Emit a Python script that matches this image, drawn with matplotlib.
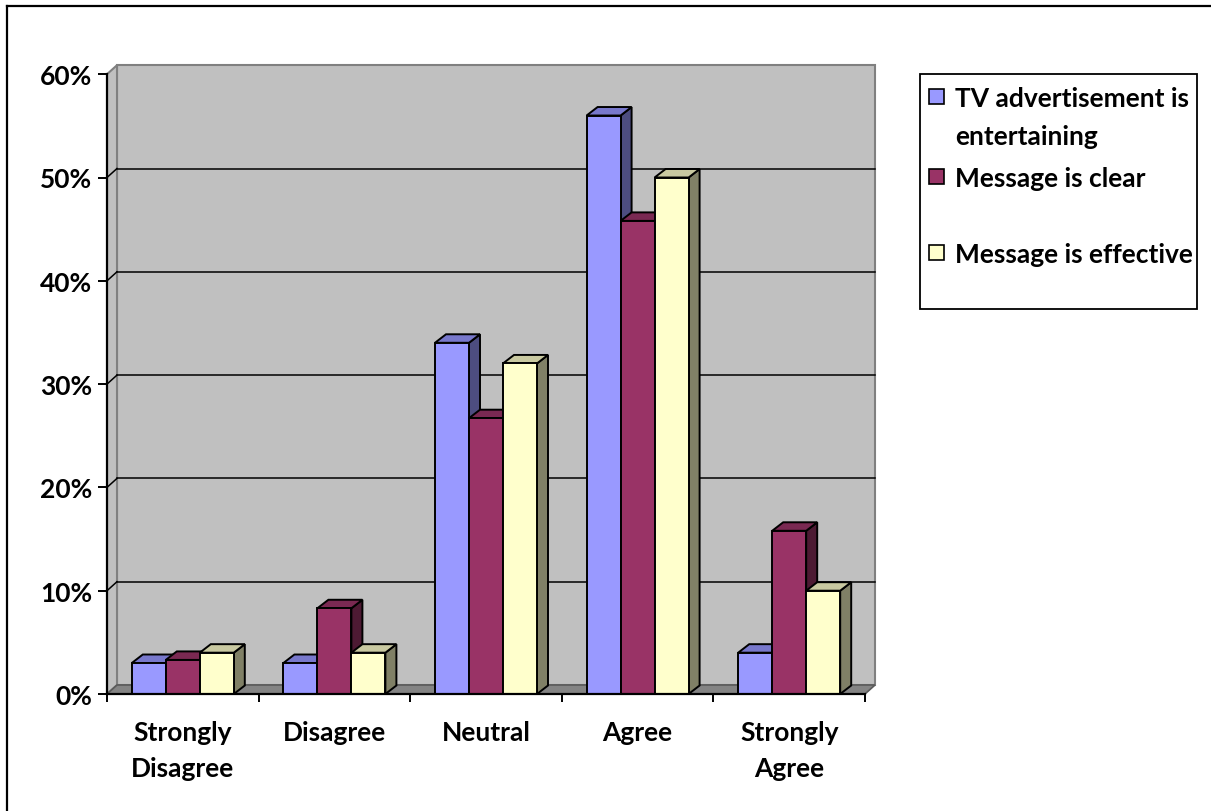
import textwrap
import numpy as np
import matplotlib.pyplot as plt
from matplotlib.patches import Polygon, Rectangle
from matplotlib.lines import Line2D

plt.rcParams['font.family'] = ['Lato', 'DejaVu Sans']
plt.rcParams['font.weight'] = 'bold'
FS = 19

# survey answers, percent of respondents
categories = ['Strongly\nDisagree', 'Disagree', 'Neutral', 'Agree', 'Strongly\nAgree']
series = ['TV advertisement is entertaining', 'Message is clear', 'Message is effective']
tv_entertaining = [3, 3, 34, 56, 4]
msg_clear = [3.3, 8.3, 26.7, 45.8, 15.8]
msg_effective = [4, 4, 32, 50, 10]
values = [tv_entertaining, msg_clear, msg_effective]
y_ticks = [0, 10, 20, 30, 40, 50, 60]

# face colours for the fake 3d columns: front, top, side
front = ['#9999FF', '#993366', '#FFFFCC']
top = ['#7878CC', '#7A2952', '#C9C9A1']
side = ['#4D4D80', '#4D1A33', '#808066']

W, H = 1211, 812
fig = plt.figure(figsize=(W / 100, H / 100), dpi=100)

# plot box in pixels
x0_px, x_unit = 107, 151.6   # front left axis, px per category
y0_px, y_unit = 695, 10.33   # zero line, px per percent
xmax, ymax = 4.58, 61.3
ax = fig.add_axes([x0_px / W, (H - y0_px) / H,
                   (xmax + 0.5) * x_unit / W, ymax * y_unit / H])
ax.set_xlim(-0.5, xmax)
ax.set_ylim(0, ymax)
ax.set_facecolor('none')

# depth offsets (walls and columns) in data units
wdx, wdy = 10 / x_unit, 9 / y_unit
bdx, bdy = 11 / x_unit, 8.5 / y_unit
bw = 34 / x_unit
n = len(categories)
left, right = -0.5, n - 0.5

wall = '#C0C0C0'
edge = '#808080'

# back wall
ax.add_patch(Polygon([(left + wdx, wdy), (right + wdx, wdy), (right + wdx, 60 + wdy),
                      (left + wdx, 60 + wdy)], closed=True, fc=wall, ec=edge, lw=1.5, zorder=1))
# side wall
ax.add_patch(Polygon([(left, 0), (left + wdx, wdy), (left + wdx, 60 + wdy), (left, 60)],
                     closed=True, fc=wall, ec=edge, lw=1.5, zorder=1))
# floor
ax.add_patch(Polygon([(left, 0), (right, 0), (right + wdx, wdy), (left + wdx, wdy)],
                     closed=True, fc='#848484', ec='#5A5A5A', lw=1.2, zorder=1.2))

# gridlines on back and side walls
for t in y_ticks[1:-1]:
    ax.plot([left + wdx, right + wdx], [t + wdy, t + wdy], color='black', lw=1.1, zorder=1.5)
    ax.plot([left, left + wdx], [t, t + wdy], color='black', lw=1.1, zorder=1.5)


def column(x, v, c):
    kw = dict(closed=True, ec='black', lw=1.4, joinstyle='miter', zorder=3)
    ax.add_patch(Polygon([(x + bw, 0), (x + bw + bdx, bdy), (x + bw + bdx, v + bdy), (x + bw, v)],
                         fc=side[c], **kw))
    ax.add_patch(Polygon([(x, v), (x + bw, v), (x + bw + bdx, v + bdy), (x + bdx, v + bdy)],
                         fc=top[c], **kw))
    ax.add_patch(Rectangle((x, 0), bw, v, fc=front[c], ec='black', lw=1.4, zorder=3))


for i in range(n):
    for s in range(len(series)):
        column(i - 1.5 * bw + s * bw, values[s][i], s)

# axes
for sp in ['top', 'right']:
    ax.spines[sp].set_visible(False)
ax.spines['left'].set_bounds(0, 60)
ax.spines['bottom'].set_bounds(left, right)
for sp in ['left', 'bottom']:
    ax.spines[sp].set_linewidth(1.6)
    ax.spines[sp].set_zorder(4)

ax.set_yticks(y_ticks)
ax.set_yticklabels([f'{t}%' for t in y_ticks])
ax.tick_params(axis='y', length=6.5, width=1.4, pad=4, labelsize=FS)
ax.set_xticks(range(n))
ax.set_xticklabels(categories, linespacing=1.6)
ax.set_xticks(np.arange(left, right + 0.01, 1), minor=True)
ax.tick_params(axis='x', which='major', length=0, pad=19, labelsize=FS)
ax.tick_params(axis='x', which='minor', length=6, width=1.4)


# legend box, laid out in pixels
def fx(px):
    return px / W


def fy(py):
    return 1 - py / H


fig.add_artist(Rectangle((fx(920), fy(310)), fx(1197) - fx(920), fy(75) - fy(310),
                         transform=fig.transFigure, fc='white', ec='black', lw=1.3))
baselines = [107, 187, 263]
for s, name in enumerate(series):
    b = baselines[s]
    fig.add_artist(Rectangle((fx(929), fy(b - 2)), fx(15), fy(0) - fy(15),
                             transform=fig.transFigure, fc=front[s], ec='black', lw=1.2))
    for k, line in enumerate(textwrap.wrap(name, 20)):
        fig.text(fx(955), fy(b + 38 * k), line, fontsize=FS, va='baseline', ha='left')

# chart frame
fig.add_artist(Line2D([fx(7), fx(7)], [fy(7), fy(812)], transform=fig.transFigure,
                      color='black', lw=1.6))
fig.add_artist(Line2D([fx(7), fx(1211)], [fy(7), fy(7)], transform=fig.transFigure,
                      color='black', lw=1.6))

fig.savefig('out.png', dpi=100)
